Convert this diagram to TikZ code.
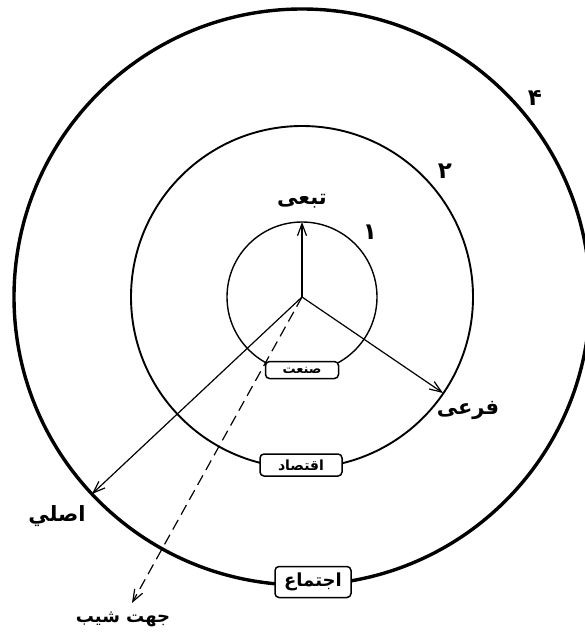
\documentclass[tikz,border=0pt]{standalone}
\usepackage{fontspec}
\usetikzlibrary{arrows.meta}
\newfontfamily\fa[Script=Arabic]{DejaVu Sans}
\TeXXeTstate=1
\newcommand{\rtltext}[1]{\fa\beginR #1\endR}
\tikzset{
  tagbox/.style={draw, fill=white, rounded corners=4pt, line width=1.5pt, inner sep=0pt,
    minimum height=17pt, font=\fa\bfseries\fontsize{13}{15}\selectfont},
  lbl/.style={font=\fa\bfseries\fontsize{21}{23}\selectfont, inner sep=1pt},
  numlbl/.style={font=\fa\bfseries\fontsize{23}{25}\selectfont, inner sep=1pt},
  arr/.style={line width=1.2pt, -{Straight Barb[length=12pt,width=9pt]}},
  dasharr/.style={arr, dash pattern=on 11pt off 6pt},
}
\begin{document}
\begin{tikzpicture}[x=1pt,y=-1pt]
\useasboundingbox (0,0) rectangle (584,632);
\coordinate (c) at (302,297);
% rings
\draw[line width=1.4pt] (c) circle[radius=75];
\draw[line width=1.9pt] (c) circle[radius=171];
\draw[line width=3.4pt] (c) circle[radius=288];
% arrow ends
\coordinate (t1) at (302,222);
\coordinate (t2) at (443,393);
\coordinate (t3) at (92,494);
\coordinate (t4) at (132,603);
\draw[arr] (c) -- (t1);
\draw[arr] (c) -- (t2);
\draw[arr] (c) -- (t3);
\draw[dasharr] (c) -- (t4);
% boxes on rings
\node[tagbox, minimum width=73pt] (san) at (302,370) {\rtltext{صنعت}};
\node[tagbox, minimum width=82pt, minimum height=22pt, font=\fa\bfseries\fontsize{14}{16}\selectfont] (eqt) at (301,465) {\rtltext{اقتصاد}};
\node[tagbox, minimum width=76pt, minimum height=31pt, font=\fa\bfseries\fontsize{18}{20}\selectfont] (ejt) at (313,582) {\rtltext{اجتماع}};
% labels
\node[lbl] (tab) at (302,201) {\rtltext{تبعی}};
\node[lbl] (far) at (468,410) {\rtltext{فرعی}};
\node[lbl] (asl) at (57,516) {\rtltext{اصلي}};
\node[font=\fa\bfseries\fontsize{18}{20}\selectfont, inner sep=1pt] (shib) at (123,619) {\rtltext{جهت شیب}};
% ring numbers
\node[numlbl] (n1) at (370,232) {\rtltext{۱}};
\node[numlbl] (n2) at (445,171) {\rtltext{۲}};
\node[numlbl] (n4) at (535,98) {\rtltext{۴}};
\end{tikzpicture}
\end{document}
